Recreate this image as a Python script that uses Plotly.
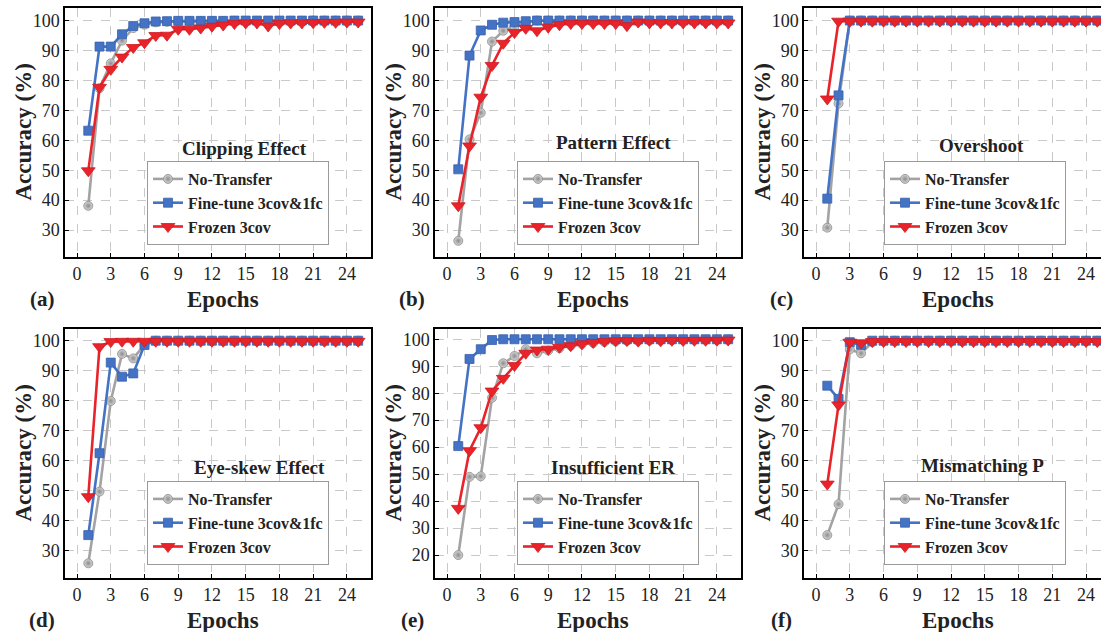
import plotly.graph_objects as go

epochs = list(range(1, 26))

clip_nt = [38.1, 77.4, 85.7, 93.3, 97.5, 98.6, 99.4, 99.6, 99.7, 99.7, 99.8, 99.8, 99.8, 99.9, 99.9, 99.9, 99.9, 99.9, 99.9, 99.9, 100, 100, 100, 100, 100]
clip_ft = [63.2, 91.3, 91.3, 95.4, 98.2, 99.1, 99.7, 99.8, 99.9, 99.9, 99.9, 99.9, 99.9, 100, 100, 100, 100, 100, 100, 100, 100, 100, 100, 100, 100]
clip_fr = [49.8, 77.7, 83.7, 87.8, 91.0, 92.6, 95.0, 95.1, 97.1, 97.1, 97.5, 98.1, 98.5, 99.0, 99.2, 99.2, 98.2, 99.0, 99.2, 99.2, 99.3, 99.4, 99.4, 99.5, 99.5]

pat_nt = [26.4, 60.3, 69.2, 93.0, 96.6, 98.0, 99.5, 100, 100, 100, 100, 100, 100, 100, 100, 100, 100, 100, 100, 100, 100, 100, 100, 100, 100]
pat_ft = [50.3, 88.3, 96.7, 98.6, 99.3, 99.5, 99.8, 100, 100, 100, 100, 100, 100, 100, 100, 100, 100, 100, 100, 100, 100, 100, 100, 100, 100]
pat_fr = [38.1, 58.1, 74.4, 85.0, 92.4, 96.0, 97.4, 96.6, 97.8, 98.6, 99.0, 99.0, 99.0, 99.0, 99.0, 98.3, 99.5, 99.2, 99.2, 99.2, 99.2, 99.2, 99.2, 99.2, 99.2]

ovr_nt = [30.8, 72.3, 100, 100, 100, 100, 100, 100, 100, 100, 100, 100, 100, 100, 100, 100, 100, 100, 100, 100, 100, 100, 100, 100, 100]
ovr_ft = [40.5, 75.0, 100, 100, 100, 100, 100, 100, 100, 100, 100, 100, 100, 100, 100, 100, 100, 100, 100, 100, 100, 100, 100, 100, 100]
ovr_fr = [73.8, 99.8, 99.8, 99.8, 99.8, 99.8, 99.8, 99.8, 99.8, 99.8, 99.8, 99.8, 99.8, 99.8, 99.8, 99.8, 99.8, 99.8, 99.8, 99.8, 99.8, 99.8, 99.8, 99.8, 99.8]

eye_nt = [25.8, 49.7, 79.9, 95.6, 94.1, 98.6, 100, 100, 100, 100, 100, 100, 100, 100, 100, 100, 100, 100, 100, 100, 100, 100, 100, 100, 100]
eye_ft = [35.2, 62.5, 92.7, 88.0, 89.1, 98.6, 100, 100, 100, 100, 100, 100, 100, 100, 100, 100, 100, 100, 100, 100, 100, 100, 100, 100, 100]
eye_fr = [48.0, 98.0, 99.7, 99.8, 99.8, 99.8, 99.8, 99.8, 99.8, 99.8, 99.8, 99.8, 99.8, 99.8, 99.8, 99.8, 99.8, 99.8, 99.8, 99.8, 99.8, 99.8, 99.8, 99.8, 99.8]

ins_nt = [20.0, 49.0, 49.2, 78.3, 91.1, 93.8, 96.3, 94.8, 95.8, 96.7, 97.6, 98.2, 98.6, 99.0, 99.2, 99.4, 99.5, 99.6, 99.7, 99.7, 99.8, 99.8, 99.8, 99.9, 99.9]
ins_ft = [60.4, 92.7, 96.3, 99.7, 100, 100, 100, 100, 100, 100, 100, 100, 100, 100, 100, 100, 100, 100, 100, 100, 100, 100, 100, 100, 100]
ins_fr = [37.3, 58.7, 67.2, 80.8, 85.5, 90.3, 94.8, 96.0, 96.3, 97.0, 97.6, 98.3, 98.8, 99.2, 99.4, 99.5, 99.3, 99.6, 99.4, 99.6, 99.5, 99.6, 99.6, 99.6, 99.7]

mis_nt = [35.2, 45.5, 97.1, 95.8, 99.5, 100, 100, 100, 100, 100, 100, 100, 100, 100, 100, 100, 100, 100, 100, 100, 100, 100, 100, 100, 100]
mis_ft = [85.0, 80.6, 99.5, 98.6, 100, 100, 100, 100, 100, 100, 100, 100, 100, 100, 100, 100, 100, 100, 100, 100, 100, 100, 100, 100, 100]
mis_fr = [52.2, 78.6, 99.5, 99.3, 99.7, 99.7, 99.7, 99.7, 99.7, 99.7, 99.7, 99.7, 99.7, 99.7, 99.7, 99.7, 99.7, 99.7, 99.7, 99.7, 99.7, 99.7, 99.7, 99.7, 99.7]

series_names = ["No-Transfer", "Fine-tune 3cov&1fc", "Frozen 3cov"]
panel_titles = ["Clipping Effect", "Pattern Effect", "Overshoot",
                "Eye-skew Effect", "Insufficient ER", "Mismatching P"]
panel_letters = ["(a)", "(b)", "(c)", "(d)", "(e)", "(f)"]
panel_data = [
    (clip_nt, clip_ft, clip_fr),
    (pat_nt, pat_ft, pat_fr),
    (ovr_nt, ovr_ft, ovr_fr),
    (eye_nt, eye_ft, eye_fr),
    (ins_nt, ins_ft, ins_fr),
    (mis_nt, mis_ft, mis_fr),
]
x_ticks = [0, 3, 6, 9, 12, 15, 18, 21, 24]
y_ticks_std = [30, 40, 50, 60, 70, 80, 90, 100]
y_ticks_e = [20, 30, 40, 50, 60, 70, 80, 90, 100]

W, H = 1101, 632
FONT = "Liberation Serif"

# pixel geometry
col_left = [65, 435, 804]
col_right = [370.5, 740.5, 1101]
row_top = [8, 329]
row_bot = [257, 578]
x_ranges = [[-1.07, 26.1], [-1.07, 26.1], [-1.07, 25.33]]
y_ranges = [[21.0, 104.2], [21.0, 104.2], [21.0, 104.2],
            [20.9, 103.9], [11.5, 103.8], [20.9, 103.9]]

styles = [
    dict(color="#a3a3a3", symbol="circle", size=9, mline="#8a8a8a", grad="#8c8c8c", mcol="#d6d6d6"),
    dict(color="#4472c4", symbol="square", size=9, mline="#3a63ad", grad=None, mcol="#4472c4"),
    dict(color="#e8232a", symbol="triangle-down", size=12, mline="#d01c22", grad=None, mcol="#e8232a"),
]

title_pos = [(244.7, 148), (613, 142.5), (981.7, 145.7),
             (259, 467.7), (613, 467.7), (982, 465.7)]
legend_pos = [(147, 161), (517, 161), (884, 161),
              (147, 481), (517, 481), (884, 481)]

fig = go.Figure()
layout = dict(width=W, height=H, margin=dict(l=0, r=0, t=0, b=0),
              paper_bgcolor="white", plot_bgcolor="white",
              font=dict(family=FONT, size=18, color="#222"),
              annotations=[])

for i in range(6):
    r, c = divmod(i, 3)
    sfx = "" if i == 0 else str(i + 1)
    xa, ya = "x" + sfx, "y" + sfx
    leg = "legend" + sfx
    for k in range(3):
        st = styles[k]
        marker = dict(symbol=st["symbol"], size=st["size"], color=st["mcol"],
                      line=dict(color=st["mline"], width=0.8))
        if st["grad"]:
            marker["gradient"] = dict(type="radial", color=st["grad"])
        fig.add_trace(go.Scatter(
            x=epochs, y=panel_data[i][k], name=series_names[k],
            mode="lines+markers", xaxis=xa, yaxis=ya, legend=leg,
            line=dict(color=st["color"], width=2.6),
            marker=marker,
        ))
    layout["xaxis" + sfx] = dict(
        domain=[col_left[c] / W, col_right[c] / W], range=x_ranges[c],
        anchor=ya, tickvals=x_ticks, showgrid=True, gridcolor="#c9c9c9",
        griddash="dash", gridwidth=1, showline=True, linecolor="black",
        linewidth=1.5, mirror=True, ticks="inside", ticklen=4, tickcolor="black",
        tickfont=dict(family=FONT, size=18, color="#222"), zeroline=False)
    layout["yaxis" + sfx] = dict(
        domain=[1 - row_bot[r] / H, 1 - row_top[r] / H], range=y_ranges[i],
        anchor=xa, tickvals=(y_ticks_e if i == 4 else y_ticks_std),
        showgrid=True, gridcolor="#c9c9c9", griddash="dash", gridwidth=1,
        showline=True, linecolor="black", linewidth=1.5,
        mirror=(c != 2), ticks="inside", ticklen=4, tickcolor="black",
        tickfont=dict(family=FONT, size=18, color="#222"), zeroline=False)
    lx, ly = legend_pos[i]
    layout[leg] = dict(x=lx / W, y=1 - ly / H, xanchor="left", yanchor="top",
                       bgcolor="white", bordercolor="#9a9a9a", borderwidth=1,
                       font=dict(family=FONT, size=16, color="#222", weight="bold"),
                       tracegroupgap=0, itemsizing="trace")
    tx, ty = title_pos[i]
    layout["annotations"].append(dict(
        text="<b>%s</b>" % panel_titles[i], x=tx / W, y=1 - ty / H,
        xref="paper", yref="paper", showarrow=False, xanchor="center",
        yanchor="middle", font=dict(family=FONT, size=19, color="#222")))
    # axis titles
    cx = (col_left[c] + min(col_right[c], col_left[c] + 305.5)) / 2
    layout["annotations"].append(dict(
        text="<b>Epochs</b>", x=(cx + 5) / W, y=1 - (row_bot[r] + 42) / H,
        xref="paper", yref="paper", showarrow=False, xanchor="center",
        yanchor="middle", font=dict(family=FONT, size=23, color="#222")))
    layout["annotations"].append(dict(
        text="<b>%s</b>" % panel_letters[i], x=(col_left[c] - 23) / W,
        y=1 - (row_bot[r] + 42) / H, xref="paper", yref="paper",
        showarrow=False, xanchor="center", yanchor="middle",
        font=dict(family=FONT, size=21, color="#222")))
    layout["annotations"].append(dict(
        text="<b>Accuracy (%)</b>", x=(col_left[c] - 42) / W,
        y=1 - ((row_top[r] + row_bot[r]) / 2) / H, xref="paper", yref="paper",
        showarrow=False, xanchor="center", yanchor="middle", textangle=-90,
        font=dict(family=FONT, size=23, color="#222")))

fig.update_layout(**layout)
fig.write_html("out.html")
